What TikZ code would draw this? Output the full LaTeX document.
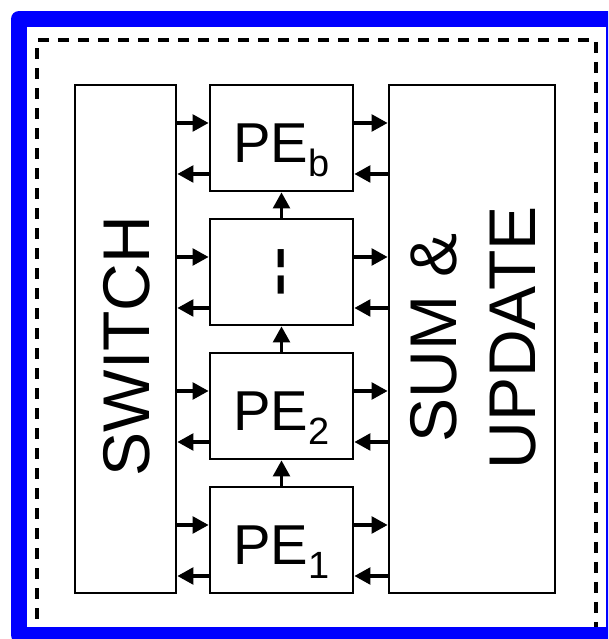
\documentclass[tikz,border=0pt]{standalone}
\usepackage{fontspec}
\setmainfont{Liberation Sans}
\usetikzlibrary{arrows.meta}
\newcommand{\FB}{\fontsize{47}{56}\selectfont}
\newcommand{\FP}{\fontsize{40}{48}\selectfont}
\newcommand{\FS}{\fontsize{27}{32}\selectfont}
\newcommand{\FD}{\fontsize{34}{40}\selectfont\bfseries}
\newcommand{\PEsub}[1]{PE\raisebox{-10pt}{\FS #1}}

\begin{document}
\begin{tikzpicture}
\tikzstyle{texto}=[draw=none,fill=none,black,font=\FB,align=center,rotate=90]
\tikzstyle{caja}=[draw=black,line width=2pt,minimum width=3.575cm,minimum height=2.65cm,inner sep=0pt]
\tikzstyle{pe}=[caja,font=\FP,text height=45pt,text depth=10pt]
\tikzstyle{alta}=[caja,minimum height=12.7cm]
\tikzstyle{line}=[black,line width=2.2pt,-{Triangle[length=0.4cm,width=0.42cm]}]

\useasboundingbox (0,0) rectangle (15.2,15.975);
\clip (0,0) rectangle (15.2,15.975);

% frame
\draw[line width=2.3pt,dash pattern=on 0.275cm off 0.225cm] (0.925,0) -- (0.925,14.975) -- (14.9,14.975) -- (14.9,0);
\draw[blue,line width=0.4cm,line join=round] (0.475,0.1) rectangle (15.35,15.5);

% blocks
\node[alta,minimum width=2.525cm] (sw) at (3.1375,7.5) {};
\node[alta,minimum width=4.15cm] (su) at (11.8,7.5) {};

\node[pe] (pb) at (7.0375,12.525) {\PEsub{b}};
\node[caja,font=\FD] (pd) at (7.0375,9.175) {¦};
\node[pe] (p2) at (7.0375,5.825) {\PEsub{2}};
\node[pe] (p1) at (7.0375,2.475) {\PEsub{1}};

\node[texto] (swt) at (3.1625,7.325) {SWITCH};
\node[texto] (sut) at (11.8375,7.525) {SUM \&\\UPDATE};

% switch <-> PE
\draw[line] ([yshift=.375cm]pb.west -| sw.east) -- ([yshift=.375cm]pb.west);
\draw[line] ([yshift=-.9cm]pb.west) -- ([yshift=-.9cm]pb.west -| sw.east);
\draw[line] ([yshift=.375cm]pd.west -| sw.east) -- ([yshift=.375cm]pd.west);
\draw[line] ([yshift=-.9cm]pd.west) -- ([yshift=-.9cm]pd.west -| sw.east);
\draw[line] ([yshift=.375cm]p2.west -| sw.east) -- ([yshift=.375cm]p2.west);
\draw[line] ([yshift=-.9cm]p2.west) -- ([yshift=-.9cm]p2.west -| sw.east);
\draw[line] ([yshift=.375cm]p1.west -| sw.east) -- ([yshift=.375cm]p1.west);
\draw[line] ([yshift=-.9cm]p1.west) -- ([yshift=-.9cm]p1.west -| sw.east);

% PE <-> sum
\draw[line] ([yshift=.375cm]pb.east) -- ([yshift=.375cm]pb.east -| su.west);
\draw[line] ([yshift=-.9cm]pb.east -| su.west) -- ([yshift=-.9cm]pb.east);
\draw[line] ([yshift=.375cm]pd.east) -- ([yshift=.375cm]pd.east -| su.west);
\draw[line] ([yshift=-.9cm]pd.east -| su.west) -- ([yshift=-.9cm]pd.east);
\draw[line] ([yshift=.375cm]p2.east) -- ([yshift=.375cm]p2.east -| su.west);
\draw[line] ([yshift=-.9cm]p2.east -| su.west) -- ([yshift=-.9cm]p2.east);
\draw[line] ([yshift=.375cm]p1.east) -- ([yshift=.375cm]p1.east -| su.west);
\draw[line] ([yshift=-.9cm]p1.east -| su.west) -- ([yshift=-.9cm]p1.east);

% chain
\draw[line] (p1.north) -- (p2.south);
\draw[line] (p2.north) -- (pd.south);
\draw[line] (pd.north) -- (pb.south);
\end{tikzpicture}
\end{document}
